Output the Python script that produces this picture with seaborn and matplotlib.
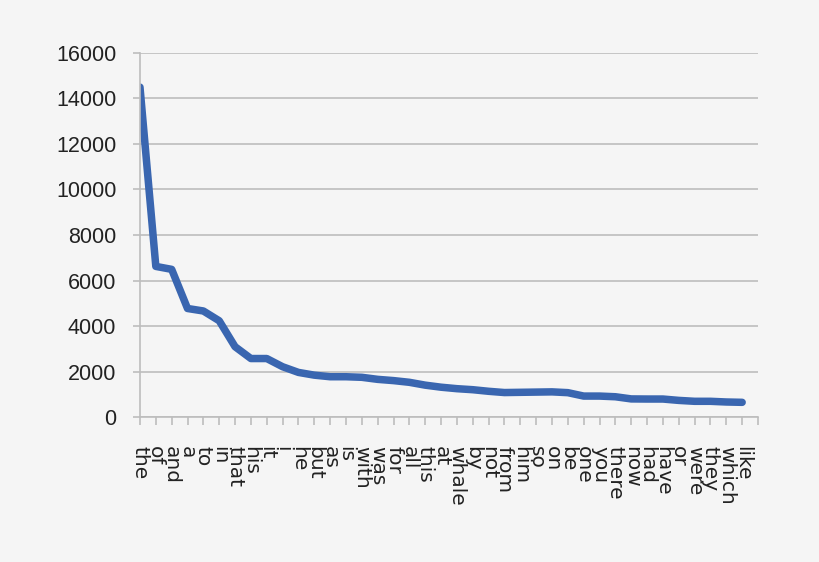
import numpy as np
import pandas as pd
import matplotlib
matplotlib.use('Agg')
import matplotlib.pyplot as plt
import seaborn as sns

# word frequencies
words = ['the', 'of', 'and', 'a', 'to', 'in', 'that', 'his', 'it', 'i',
         'he', 'but', 'as', 'is', 'with', 'was', 'for', 'all', 'this', 'at',
         'whale', 'by', 'not', 'from', 'him', 'so', 'on', 'be', 'one', 'you',
         'there', 'now', 'had', 'have', 'or', 'were', 'they', 'which', 'like']
counts = [14500, 6620, 6490, 4770, 4660, 4230, 3090, 2570, 2570, 2210,
          1960, 1840, 1770, 1770, 1745, 1655, 1600, 1525, 1400, 1310,
          1245, 1200, 1130, 1075, 1085, 1095, 1105, 1070, 920, 920,
          890, 795, 790, 790, 730, 690, 690, 660, 645]
y_ticks = [0, 2000, 4000, 6000, 8000, 10000, 12000, 14000, 16000]

df = pd.DataFrame({'pos': np.arange(len(words)), 'word': words, 'count': counts})

sns.set_style('white')
bg = '#f5f5f5'
grid_c = '#bdbdbd'

fig = plt.figure(figsize=(8.2, 5.62), dpi=100, facecolor=bg)
ax = fig.add_axes([0.1707, 0.258, 0.9244 - 0.1707, 0.9057 - 0.258])
ax.set_facecolor(bg)

sns.lineplot(data=df, x='pos', y='count', ax=ax, color='#3a66b0',
             linewidth=5.4, solid_capstyle='round', solid_joinstyle='round')

ax.set_xlim(0, len(words))
ax.set_ylim(0, 16000)
ax.set_yticks(y_ticks)
ax.set_yticklabels([str(v) for v in y_ticks],
                   family=['Liberation Sans Narrow', 'Liberation Sans'], fontsize=15.5, color='#222222')
ax.set_xticks(list(range(len(words) + 1)))
ax.set_xticklabels(words + [''], rotation=270, fontsize=14.5, color='#222222',
                   family=['DejaVu Sans'])

ax.yaxis.grid(True, color=grid_c, linewidth=1.2)
ax.xaxis.grid(False)
for side in ['top', 'right']:
    ax.spines[side].set_visible(False)
for side in ['left', 'bottom']:
    ax.spines[side].set_color(grid_c)
    ax.spines[side].set_linewidth(1.2)
ax.tick_params(axis='x', length=6, width=1.2, color=grid_c, pad=15, direction='out', bottom=True)
ax.tick_params(axis='y', length=5, width=1.2, color=grid_c, pad=12, direction='out', left=True)
ax.spines['left'].set_bounds(0, 16000)
ax.set_xlabel('')
ax.set_ylabel('')

fig.savefig('out.png', dpi=100, facecolor=bg)
